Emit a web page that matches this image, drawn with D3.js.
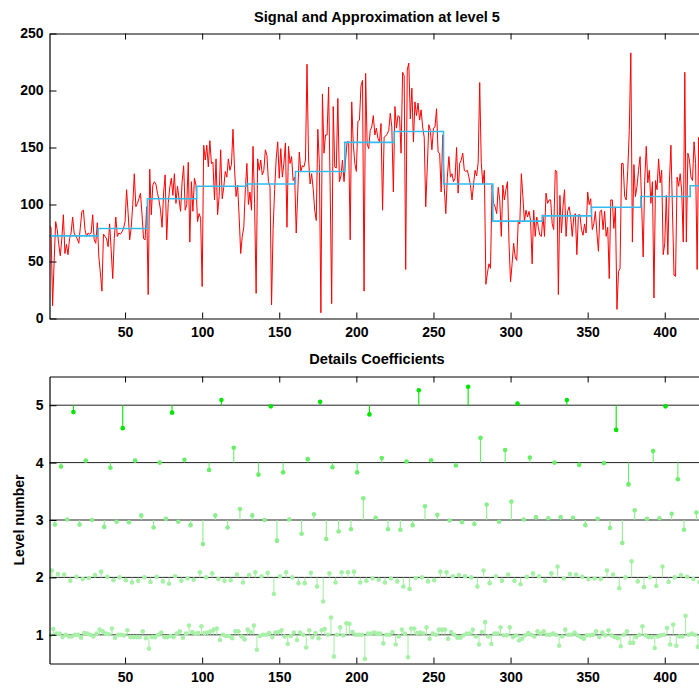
<!DOCTYPE html>
<html><head><meta charset="utf-8">
<script src="https://cdn.jsdelivr.net/npm/d3@7"></script>
<style>
body{margin:0;background:#fff}
text{font-family:"Liberation Sans",Arial,Helvetica,sans-serif;font-weight:bold;fill:#000}
</style>
</head><body>
<svg id="chart" width="699" height="688"></svg>
<script>
// ---------- data ----------
const signalValues = [
81,80,11,50,85,78,65,55,70,91,57,65,56,70,75,89,75,72,70,66,80,94,95,78,72,75,74,75,91,69,66,84,
54,40,24,74,72,70,63,83,60,35,70,89,72,75,74,76,79,85,113,92,69,80,100,127,98,101,105,110,91,70,69,98,
21,131,91,117,120,118,110,104,95,80,110,126,69,101,115,123,108,127,101,116,105,94,120,134,95,100,137,67,120,94,123,117,
85,92,88,28,152,139,152,133,156,136,137,104,140,91,107,148,105,115,129,124,140,130,135,166,131,107,117,89,57,72,80,113,
136,100,111,95,151,101,22,140,130,139,126,130,148,143,120,116,12,78,113,140,155,123,149,124,136,154,80,151,136,142,121,124,
75,110,146,129,134,133,139,223,140,118,127,114,95,86,166,136,5,197,145,161,161,203,116,13,186,133,132,193,120,125,139,120,
139,155,155,69,190,153,136,129,173,174,204,209,24,215,153,149,165,168,178,161,167,158,155,171,95,159,160,162,165,180,168,111,
186,167,178,177,145,216,213,43,218,224,175,202,155,190,178,189,174,183,168,159,98,133,170,165,148,167,168,184,146,145,111,161,
115,92,124,142,124,127,120,123,150,110,136,139,145,130,129,130,124,117,104,118,130,125,137,207,137,118,130,30,40,48,44,117,
101,98,92,115,104,72,117,104,113,120,66,32,48,66,54,51,86,83,127,107,85,95,89,94,86,48,95,72,89,80,73,72,
91,72,110,101,104,104,83,78,130,129,21,108,75,98,113,72,94,98,89,72,89,92,56,91,91,78,73,83,75,111,100,105,
78,83,94,75,59,94,95,78,94,72,80,35,104,104,79,98,8,41,44,136,136,107,104,130,165,233,67,135,107,116,130,142,
101,54,121,151,119,130,101,120,18,121,113,140,119,130,56,66,108,56,119,152,95,38,37,124,116,127,111,67,216,67,145,139,
124,121,155,136,43,159,120,90,110,130,100
];
const approxValues = [72.5,79,105,116,118,129,154.5,164,118,85.4,90,97.6,107,116.4];
const approxBlock = 32;

// detail coefficients (offset from their level line)
const detail5 = [-0.12,-0.40,-0.13,0.09,-0.02,0.06,-0.16,0.26,0.32,0.03,0.09,-0.43,-0.02];
const detail4 = [-0.07,0.035,-0.09,0.035,0.0,0.05,-0.13,0.26,-0.21,-0.17,0.06,-0.08,-0.17,0.08,0.02,0.04,-0.05,0.43,0.22,0.09,0.0,-0.04,-0.01,-0.38,0.20,-0.29,0.1];
const detail3 = [-0.08,0.01,-0.08,0.0,-0.12,-0.03,-0.04,0.08,-0.13,0.02,-0.03,-0.09,-0.42,0.08,-0.13,0.19,0.08,0.0,-0.36,0.01,-0.24,0.1,-0.33,-0.2,-0.16,0.38,0.04,-0.16,-0.17,-0.09,0.24,0.09,-0.01,-0.04,-0.07,0.27,-0.03,0.32,0.01,0.05,0.03,0.05,0.04,-0.09,0.02,-0.14,-0.4,0.17,0.02,0.03,0.11,-0.17,0.13];
const detail2 = [0.12,0.06,0.05,-0.06,0.01,-0.03,-0.01,0.04,0.10,0.01,-0.05,0.0,-0.05,-0.09,-0.06,0.0,-0.08,0.01,-0.07,-0.11,0.02,-0.06,-0.02,-0.04,0.09,0.0,0.07,-0.03,-0.06,-0.05,0.05,-0.09,0.04,0.09,0.02,0.08,-0.29,0.02,0.09,0.0,-0.10,-0.10,0.08,-0.16,-0.42,0.07,-0.09,0.09,0.09,
0.1,-0.09,-0.06,-0.02,-0.04,-0.09,-0.02,-0.07,-0.16,-0.20,-0.01,0.0,-0.07,-0.05,0.1,0.09,0.02,0.04,0.02,0.0,-0.16,0.12,-0.10,0.02,-0.06,0.05,-0.06,-0.12,0.01,0.07,0.02,-0.06,0.07,0.19,-0.02,0.06,0.05,0.01,-0.03,-0.02,-0.03,0.12,0.05,-0.19,0.0,0.28,-0.07,-0.17,0.0,-0.15,0.19,-0.08,0.0,0.04,0.01,-0.03,-0.08];
const detail1 = [-0.01,0.10,0.02,0.02,-0.04,0.0,-0.03,-0.03,0.0,0.0,-0.05,0.03,0.02,0.0,-0.03,0.02,0.09,0.06,0.02,0.01,0.11,-0.05,0.0,0.0,-0.01,0.08,-0.04,-0.04,-0.04,-0.04,0.06,-0.06,-0.24,-0.04,-0.04,0.0,0.04,-0.04,-0.04,-0.02,-0.04,0.02,0.06,-0.05,0.02,0.16,0.05,0.02,0.03,0.15,0.03,0.04,0.06,0.09,0.11,-0.09,0.0,-0.02,-0.02,-0.06,0.06,0.06,-0.03,-0.08,0.09,0.05,0.16,-0.26,-0.02,0.0,0.0,0.03,-0.04,0.04,0.05,0.08,-0.03,-0.16,-0.02,0.04,-0.09,0.04,0.0,-0.22,0.08,-0.04,0.03,-0.06,0.08,0.10,0.0,0.30,-0.38,0.0,0.13,-0.01,0.20,
0.19,0.05,0,0,0,-0.42,0.02,0.02,0.04,0.02,0.02,-0.15,0,0,0.05,-0.17,-0.03,0.09,0.02,-0.39,0.11,0.11,0.03,0.04,0.02,0.13,-0.07,0.02,0,0.09,0.09,0.09,-0.07,0.05,0,-0.05,-0.05,-0.01,0.02,0.02,0.09,-0.03,-0.17,0.05,0.22,-0.03,-0.16,0.02,0.02,0.13,-0.01,-0.01,0.13,-0.04,-0.01,-0.1,-0.07,-0.01,0.03,0,-0.03,0.06,0.02,0.06,0,0,0.02,0,-0.19,-0.03,0.09,0,0,0.04,-0.01,-0.04,-0.07,-0.01,-0.01,0,0.06,-0.04,0.04,-0.01,0.08,-0.01,-0.04,-0.06,-0.2,0,0.06,-0.14,-0.14,-0.04,0,0.15,-0.01,-0.04,-0.04,-0.23,-0.03,-0.01,0,0.12,-0.17,0.18,-0.19,-0.03,-0.03,0.33,0,0.02,0,-0.21];

const xTicks = [50,100,150,200,250,300,350,400];
const signalTicks = [0,50,100,150,200,250];
const levelTicks = [1,2,3,4,5];
const levelColors = {5:"#00e600",4:"#66ee66",3:"#8cee8c",2:"#a4f0a4",1:"#a8f0a8"};
const title1 = "Signal and Approximation at level 5";
const title2 = "Details Coefficients";
const yLabel2 = "Level number";

// ---------- drawing ----------
const svg = d3.select("#chart");
const x = d3.scaleLinear().domain([1, 427]).range([49.5, 49.5 + 426*1.542]);
const y1 = d3.scaleLinear().domain([0, 250]).range([318.5, 33.5]);
const y2 = d3.scaleLinear().domain([0.5, 5.5]).range([663.5, 376.5]);
const plotW = x.range()[1] - x.range()[0];

const defs = svg.append("defs");
defs.append("clipPath").attr("id","clipTop").append("rect")
  .attr("x",x.range()[0]).attr("y",y1.range()[1]).attr("width",plotW).attr("height",y1.range()[0]-y1.range()[1]);
defs.append("clipPath").attr("id","clipBot").append("rect")
  .attr("x",x.range()[0]).attr("y",y2.range()[1]).attr("width",plotW).attr("height",y2.range()[0]-y2.range()[1]);

// --- top panel
const topG = svg.append("g").attr("clip-path","url(#clipTop)");
const sig = signalValues.map((v,i)=>({i:i+1, v}));
topG.append("path").datum(sig)
  .attr("fill","none").attr("stroke","#ff0000").attr("stroke-width",1)
  .attr("d", d3.line().x(d=>x(d.i)).y(d=>y1(d.v)));

const apPts = approxValues.map((v,k)=>({i: k===0 ? 1 : k*approxBlock+0.5, v}));
apPts.push({i: approxValues.length*approxBlock+0.5, v: approxValues[approxValues.length-1]});
topG.append("path").datum(apPts)
  .attr("fill","none").attr("stroke","#33bbee").attr("stroke-width",1.6)
  .attr("d", d3.line().curve(d3.curveStepAfter).x(d=>x(d.i)).y(d=>y1(d.v)));

function styleAxis(g){
  g.selectAll("path.domain").attr("stroke","#000").attr("stroke-width",1.2);
  g.selectAll(".tick line").attr("stroke","#000").attr("stroke-width",1);
  g.selectAll("text").attr("font-size",14).attr("font-family",'"Liberation Sans",Arial,sans-serif').attr("font-weight","bold").attr("fill","#000");
}

svg.append("g").attr("transform",`translate(0,${y1.range()[0]})`)
  .call(d3.axisBottom(x).tickValues(xTicks).tickSizeInner(-6).tickSizeOuter(0).tickPadding(9))
  .call(styleAxis);
svg.append("g").attr("transform",`translate(0,${y1.range()[1]})`)
  .call(d3.axisTop(x).tickValues(xTicks).tickSizeInner(-6).tickSizeOuter(0).tickFormat(""))
  .call(styleAxis);
svg.append("g").attr("transform",`translate(${x.range()[0]},0)`)
  .call(d3.axisLeft(y1).tickValues(signalTicks).tickFormat(d3.format("d")).tickSizeInner(-7).tickSizeOuter(0).tickPadding(6))
  .call(styleAxis);

svg.append("text").attr("x",377).attr("y",22).attr("text-anchor","middle").attr("font-size",14.6).text(title1);

// --- bottom panel
const botG = svg.append("g").attr("clip-path","url(#clipBot)");
botG.selectAll("line.lvl").data(levelTicks).join("line").attr("class","lvl")
  .attr("x1",x.range()[0]).attr("x2",x.range()[1])
  .attr("y1",d=>y2(d)).attr("y2",d=>y2(d))
  .attr("stroke","#222").attr("stroke-width",1);

const details = [
  {level:1, vals:detail1},{level:2, vals:detail2},{level:3, vals:detail3},
  {level:4, vals:detail4},{level:5, vals:detail5}
];
details.forEach(({level, vals})=>{
  const step = Math.pow(2, level);
  const pts = vals.map((v,k)=>({i: k*step + step/2 + 0.5, v: level + v}));
  const col = levelColors[level];
  const g = botG.append("g");
  g.selectAll("line").data(pts).join("line")
    .attr("x1",d=>x(d.i)).attr("x2",d=>x(d.i))
    .attr("y1",y2(level)).attr("y2",d=>y2(d.v))
    .attr("stroke",col).attr("stroke-width",1.1);
  g.selectAll("circle").data(pts).join("circle")
    .attr("cx",d=>x(d.i)).attr("cy",d=>y2(d.v)).attr("r",2.3)
    .attr("fill",col);
});

svg.append("g").attr("transform",`translate(0,${y2.range()[0]})`)
  .call(d3.axisBottom(x).tickValues(xTicks).tickSizeInner(-6).tickSizeOuter(0).tickPadding(9))
  .call(styleAxis);
svg.append("g").attr("transform",`translate(0,${y2.range()[1]})`)
  .call(d3.axisTop(x).tickValues(xTicks).tickSizeInner(-6).tickSizeOuter(0).tickFormat(""))
  .call(styleAxis);
svg.append("g").attr("transform",`translate(${x.range()[0]},0)`)
  .call(d3.axisLeft(y2).tickValues(levelTicks).tickFormat(d3.format("d")).tickSizeInner(-7).tickSizeOuter(0).tickPadding(6))
  .call(styleAxis);

svg.append("text").attr("x",377).attr("y",364).attr("text-anchor","middle").attr("font-size",14.6).text(title2);
svg.append("text").attr("transform",`translate(24,${(y2.range()[0]+y2.range()[1])/2}) rotate(-90)`)
  .attr("text-anchor","middle").attr("font-size",14).text(yLabel2);
</script>
</body></html>
